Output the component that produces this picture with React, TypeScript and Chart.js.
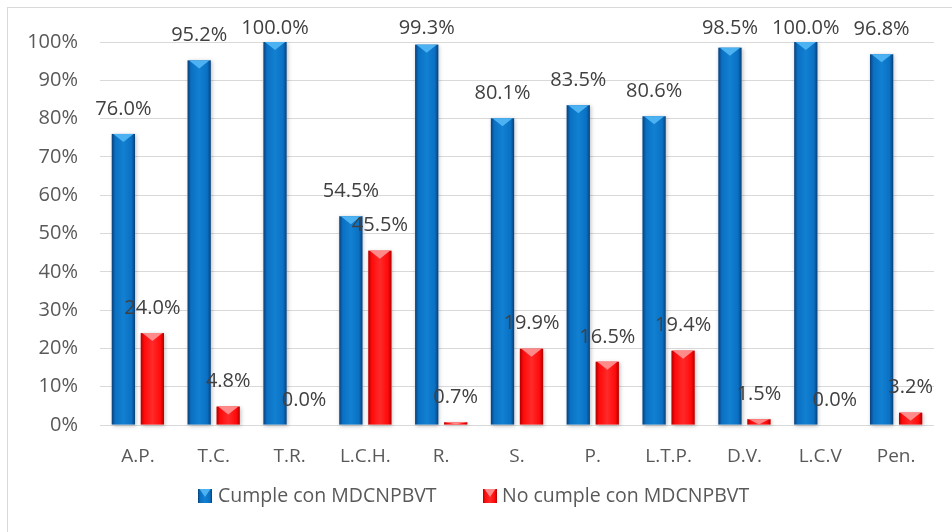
import React, { useEffect, useRef } from "react";
import { Chart, registerables } from "chart.js";

Chart.register(...registerables);

const categories = ["A.P.", "T.C.", "T.R.", "L.C.H.", "R.", "S.", "P.", "L.T.P.", "D.V.", "L.C.V", "Pen."];
const cumple = [76.0, 95.2, 100.0, 54.5, 99.3, 80.1, 83.5, 80.6, 98.5, 100.0, 96.8];
const noCumple = [24.0, 4.8, 0.0, 45.5, 0.7, 19.9, 16.5, 19.4, 1.5, 0.0, 3.2];
const seriesNames = ["Cumple con MDCNPBVT", "No cumple con MDCNPBVT"];

const FONT = "'Open Sans', 'Noto Sans', sans-serif";

const palettes = [
  { edge: "#0a3f78", mid: "#0a70c2", light: "#1280d2", bevel: "#4cb2f2" },
  { edge: "#b00000", mid: "#ff0a0a", light: "#ff2a2a", bevel: "#ff8a8a" },
];

function fillBar(ctx: CanvasRenderingContext2D, left: number, right: number, top: number, bottom: number, p: any) {
  const g = ctx.createLinearGradient(left, 0, right, 0);
  g.addColorStop(0, p.edge);
  g.addColorStop(0.15, p.mid);
  g.addColorStop(0.5, p.light);
  g.addColorStop(0.85, p.mid);
  g.addColorStop(1, p.edge);
  ctx.fillStyle = g;
  ctx.fillRect(left, top, right - left, bottom - top);
  const h = bottom - top;
  if (h > 1) {
    const bev = Math.min(8, h);
    ctx.fillStyle = p.bevel;
    ctx.beginPath();
    ctx.moveTo(left + 1.5, top);
    ctx.lineTo(right - 1.5, top);
    ctx.lineTo((left + right) / 2, top + bev);
    ctx.closePath();
    ctx.fill();
  }
}

const barStylePlugin = {
  id: "barStyle",
  afterDatasetsDraw(chart: any) {
    const ctx = chart.ctx as CanvasRenderingContext2D;
    chart.data.datasets.forEach((ds: any, di: number) => {
      const meta = chart.getDatasetMeta(di);
      meta.data.forEach((el: any) => {
        const { x, y, base, width } = el.getProps(["x", "y", "base", "width"], true);
        const left = x - width / 2;
        const right = x + width / 2;
        ctx.save();
        ctx.shadowColor = "rgba(0,0,0,0.25)";
        ctx.shadowBlur = 4;
        ctx.shadowOffsetX = 1;
        ctx.shadowOffsetY = 1;
        ctx.fillStyle = "#fff";
        if (base - y > 0.5) ctx.fillRect(left, y, width, base - y);
        ctx.restore();
        ctx.save();
        fillBar(ctx, left, right, y, base, palettes[di]);
        ctx.restore();
      });
    });
    // data labels
    ctx.save();
    ctx.font = `20px ${FONT}`;
    ctx.fillStyle = "#404040";
    ctx.textAlign = "center";
    ctx.textBaseline = "middle";
    chart.data.datasets.forEach((ds: any, di: number) => {
      const meta = chart.getDatasetMeta(di);
      meta.data.forEach((el: any, i: number) => {
        const { x, y } = el.getProps(["x", "y"], true);
        const ty = Math.max(y - 25, 28);
        ctx.fillText(ds.data[i].toFixed(1) + "%", x, ty);
      });
    });
    ctx.restore();
  },
  afterDraw(chart: any) {
    const ctx = chart.ctx as CanvasRenderingContext2D;
    ctx.save();
    ctx.strokeStyle = "#d9d9d9";
    ctx.lineWidth = 1;
    ctx.strokeRect(7.5, 7.5, 1000, 1000);
    ctx.font = `19.5px ${FONT}`;
    ctx.textBaseline = "middle";
    ctx.textAlign = "left";
    const items = [
      { x: 198, textX: 218 },
      { x: 483, textX: 502 },
    ];
    items.forEach((it, i) => {
      fillBar(ctx, it.x, it.x + 14, 489, 503, palettes[i]);
      ctx.fillStyle = "#595959";
      ctx.fillText(seriesNames[i], it.textX, 496);
    });
    ctx.restore();
  },
};

export default function App() {
  const ref = useRef<HTMLCanvasElement>(null);
  useEffect(() => {
    document.body.style.margin = "0";
    const canvas = ref.current!;
    const chart = new Chart(canvas, {
      type: "bar",
      data: {
        labels: categories,
        datasets: [
          { label: seriesNames[0], data: cumple, backgroundColor: "#0a72c6", categoryPercentage: 0.765, barPercentage: 0.8 },
          { label: seriesNames[1], data: noCumple, backgroundColor: "#ff0000", categoryPercentage: 0.765, barPercentage: 0.8 },
        ],
      },
      options: {
        responsive: false,
        animation: false,
        devicePixelRatio: 1,
        layout: { padding: { left: 0, right: 18, top: 42, bottom: 0 } },
        plugins: { legend: { display: false }, tooltip: { enabled: false } },
        scales: {
          x: {
            grid: { display: false },
            border: { display: false },
            ticks: { font: { family: FONT, size: 19 }, color: "#595959", padding: 12, maxRotation: 0 },
            afterFit: (s: any) => { s.height = 107; },
          },
          y: {
            min: 0,
            max: 100,
            ticks: {
              stepSize: 10,
              callback: (v: any) => v + "%",
              font: { family: FONT, size: 20 },
              color: "#595959",
              padding: 22,
            },
            grid: { color: "#d9d9d9", drawTicks: false, lineWidth: 1 },
            border: { display: false },
            afterFit: (s: any) => { s.width = 100; },
          },
        },
      },
      plugins: [barStylePlugin],
    });
    return () => chart.destroy();
  }, []);
  return <canvas ref={ref} width={952} height={532} style={{ display: "block" }} />;
}
